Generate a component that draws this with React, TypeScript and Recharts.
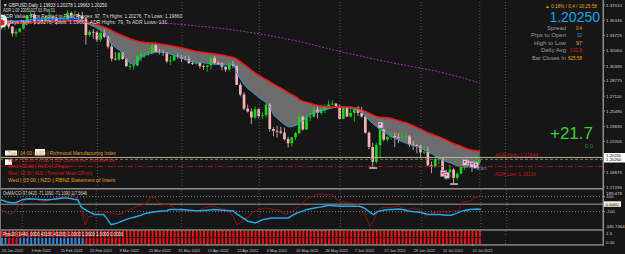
import React from "react";
import {
  ComposedChart,
  BarChart,
  Bar,
  Line,
  Area,
  XAxis,
  YAxis,
  ReferenceLine,
  Cell,
} from "recharts";

const BG = "#161616";
const FONT = "'Liberation Sans', Arial, sans-serif";
const BULL = "#19d419";
const BEAR = "#f7b4b4";
const AXIS = "#8e8e8e";
const GRID = "#6a6a6a";

// GBPUSD daily, 24 Jan 2022 .. 25 Jul 2022 — [open, high, low, close]
const candles: number[][] = [
  // Jan
  [1.3545, 1.356, 1.3434, 1.3486], [1.3486, 1.353, 1.3435, 1.3498], [1.3498, 1.3523, 1.3442, 1.3466],
  [1.3466, 1.3472, 1.336, 1.3392], [1.3392, 1.3436, 1.3358, 1.341], [1.341, 1.3453, 1.34, 1.3446],
  // Feb
  [1.3446, 1.3532, 1.3433, 1.3515], [1.3515, 1.359, 1.351, 1.3575], [1.3575, 1.3628, 1.352, 1.3595],
  [1.3595, 1.362, 1.349, 1.353], [1.353, 1.3545, 1.349, 1.3535], [1.3535, 1.3568, 1.351, 1.353],
  [1.353, 1.358, 1.3524, 1.3565], [1.3565, 1.3643, 1.353, 1.3567], [1.3567, 1.358, 1.3505, 1.3555],
  [1.3555, 1.3565, 1.349, 1.3525], [1.3525, 1.356, 1.35, 1.3535], [1.3535, 1.358, 1.3515, 1.354],
  [1.354, 1.3645, 1.3535, 1.3615], [1.3615, 1.363, 1.3575, 1.359], [1.359, 1.364, 1.3575, 1.3595],
  [1.3595, 1.362, 1.354, 1.3578], [1.3578, 1.3625, 1.353, 1.3547], [1.3547, 1.356, 1.3272, 1.3375],
  [1.3375, 1.343, 1.3354, 1.341], [1.341, 1.3438, 1.3335, 1.3405],
  // Mar
  [1.3405, 1.342, 1.33, 1.3325], [1.3325, 1.3415, 1.33, 1.3397], [1.3397, 1.3437, 1.334, 1.3357],
  [1.3357, 1.3365, 1.3228, 1.325], [1.325, 1.3277, 1.309, 1.3118], [1.3118, 1.319, 1.31, 1.311],
  [1.311, 1.3188, 1.3095, 1.3183], [1.3183, 1.319, 1.3105, 1.3115], [1.3115, 1.3125, 1.3035, 1.3036],
  [1.3036, 1.3077, 1.3, 1.3038], [1.3038, 1.3063, 1.2998, 1.3045], [1.3045, 1.316, 1.3035, 1.315],
  [1.315, 1.321, 1.309, 1.317], [1.317, 1.3186, 1.313, 1.318], [1.318, 1.32, 1.3148, 1.3185],
  [1.3185, 1.3297, 1.3165, 1.3265], [1.3265, 1.3298, 1.3185, 1.3195], [1.3195, 1.3223, 1.3164, 1.319],
  [1.319, 1.3217, 1.315, 1.3185], [1.3185, 1.319, 1.307, 1.309], [1.309, 1.315, 1.305, 1.31],
  [1.31, 1.3167, 1.309, 1.315], [1.315, 1.3175, 1.3118, 1.3137],
  // Apr
  [1.3137, 1.3162, 1.3082, 1.3117], [1.3117, 1.3148, 1.3095, 1.3112], [1.3112, 1.315, 1.3062, 1.307],
  [1.307, 1.3095, 1.305, 1.3068], [1.3068, 1.3107, 1.3054, 1.3072], [1.3072, 1.3078, 1.3012, 1.3036],
  [1.3036, 1.3055, 1.2996, 1.303], [1.303, 1.3054, 1.2975, 1.3045], [1.3045, 1.3148, 1.3, 1.3128],
  [1.3128, 1.3148, 1.305, 1.307], [1.307, 1.309, 1.305, 1.3067], [1.3067, 1.3081, 1.2994, 1.303],
  [1.303, 1.3037, 1.2973, 1.3], [1.3, 1.309, 1.299, 1.3065], [1.3065, 1.309, 1.302, 1.304],
  [1.304, 1.3045, 1.2832, 1.2835], [1.2835, 1.286, 1.271, 1.273], [1.273, 1.2755, 1.256, 1.2575],
  [1.2575, 1.262, 1.2535, 1.2545], [1.2545, 1.258, 1.241, 1.248], [1.248, 1.2598, 1.246, 1.257],
  // May
  [1.257, 1.258, 1.247, 1.2495], [1.2495, 1.2535, 1.246, 1.2505], [1.2505, 1.2638, 1.248, 1.262],
  [1.262, 1.2637, 1.2325, 1.2355], [1.2355, 1.2375, 1.2275, 1.2335], [1.2335, 1.239, 1.226, 1.233],
  [1.233, 1.238, 1.23, 1.2315], [1.2315, 1.237, 1.223, 1.2245], [1.2245, 1.227, 1.2155, 1.22],
  [1.22, 1.227, 1.2165, 1.2265], [1.2265, 1.2325, 1.223, 1.231], [1.231, 1.2524, 1.23, 1.249],
  [1.249, 1.25, 1.234, 1.235], [1.235, 1.2498, 1.2345, 1.248], [1.248, 1.2525, 1.244, 1.249],
  [1.249, 1.2595, 1.248, 1.2565], [1.2565, 1.26, 1.247, 1.253], [1.253, 1.259, 1.251, 1.257],
  [1.257, 1.2622, 1.253, 1.26], [1.26, 1.2665, 1.259, 1.262], [1.262, 1.2667, 1.2615, 1.263],
  [1.263, 1.2638, 1.258, 1.26],
  // Jun
  [1.26, 1.262, 1.246, 1.2465], [1.2465, 1.26, 1.246, 1.259], [1.259, 1.2595, 1.2485, 1.249],
  [1.249, 1.26, 1.248, 1.253], [1.253, 1.2595, 1.243, 1.259], [1.259, 1.26, 1.2495, 1.253],
  [1.253, 1.2595, 1.248, 1.249], [1.249, 1.25, 1.2305, 1.2315], [1.2315, 1.233, 1.2135, 1.216],
  [1.216, 1.2205, 1.1934, 1.2], [1.2, 1.2205, 1.198, 1.218], [1.218, 1.2405, 1.204, 1.235],
  [1.235, 1.236, 1.222, 1.224], [1.224, 1.228, 1.222, 1.227], [1.227, 1.2325, 1.224, 1.228],
  [1.228, 1.2315, 1.216, 1.2265], [1.2265, 1.231, 1.22, 1.226], [1.226, 1.2325, 1.224, 1.227],
  [1.227, 1.2315, 1.223, 1.2275], [1.2275, 1.229, 1.216, 1.2185], [1.2185, 1.2225, 1.2125, 1.218],
  [1.218, 1.2195, 1.209, 1.2175],
  // Jul
  [1.2175, 1.218, 1.204, 1.21], [1.21, 1.2165, 1.208, 1.211], [1.211, 1.2165, 1.195, 1.196],
  [1.196, 1.2, 1.1875, 1.1945], [1.1945, 1.204, 1.1935, 1.203], [1.203, 1.205, 1.1975, 1.2035],
  [1.2035, 1.204, 1.188, 1.189], [1.189, 1.1915, 1.1805, 1.1885], [1.1885, 1.1965, 1.183, 1.1915],
  [1.1915, 1.193, 1.176, 1.1825], [1.1825, 1.189, 1.1805, 1.187], [1.187, 1.199, 1.1865, 1.196],
  [1.196, 1.203, 1.191, 1.201], [1.201, 1.202, 1.195, 1.1985], [1.1985, 1.2005, 1.189, 1.196],
  [1.196, 1.2065, 1.195, 1.2005], [1.19933, 1.20278, 1.19663, 1.2025],
];

// envelope band (red top edge, blue lower edge)
const bandUpper = [
  1.3512, 1.3512, 1.3511, 1.351, 1.3509, 1.3508, 1.3508, 1.351, 1.3512, 1.3514,
  1.3515, 1.3516, 1.3518, 1.352, 1.3522, 1.3522, 1.3523, 1.3524, 1.3526, 1.3527,
  1.3527, 1.3525, 1.3522, 1.3517, 1.3508, 1.3498, 1.3487, 1.3473, 1.3458, 1.344,
  1.3421, 1.34, 1.3382, 1.3366, 1.335, 1.3332, 1.3318, 1.3307, 1.33, 1.3295,
  1.329, 1.3287, 1.3283, 1.3279, 1.3273, 1.3267, 1.3259, 1.3251, 1.3243, 1.3235,
  1.3225, 1.3215, 1.3205, 1.3197, 1.3191, 1.3186, 1.318, 1.3175, 1.317, 1.3163,
  1.3155, 1.3147, 1.314, 1.3132, 1.311, 1.308, 1.305, 1.3022, 1.299, 1.296,
  1.2935, 1.291, 1.289, 1.2865, 1.284, 1.2818, 1.2795, 1.2772, 1.2748, 1.2725,
  1.2705, 1.267, 1.2655, 1.2643, 1.2632, 1.2618, 1.261, 1.2604, 1.26, 1.2597,
  1.2595, 1.2594, 1.2594, 1.2594, 1.2594, 1.2592, 1.2585, 1.2575, 1.256, 1.2542,
  1.2525, 1.2505, 1.2487, 1.2482, 1.2479, 1.2476, 1.2468, 1.2455, 1.2443, 1.2432,
  1.2422, 1.2405, 1.2387, 1.2368, 1.2348, 1.233, 1.2313, 1.2298, 1.2283, 1.2268,
  1.225, 1.2232, 1.2212, 1.2195, 1.2182, 1.2165, 1.2148, 1.2132, 1.2124, 1.2119,
  1.2117,
];
const bandLower = [
  1.354, 1.3538, 1.3535, 1.353, 1.3528, 1.353, 1.3533, 1.3538, 1.3545, 1.355,
  1.3552, 1.3553, 1.3556, 1.3558, 1.3558, 1.3556, 1.3555, 1.3556, 1.356, 1.356,
  1.3558, 1.355, 1.3535, 1.351, 1.3485, 1.3468, 1.345, 1.342, 1.3385, 1.333,
  1.327, 1.3235, 1.321, 1.316, 1.31, 1.307, 1.3052, 1.3085, 1.313, 1.3155,
  1.317, 1.318, 1.3186, 1.319, 1.3191, 1.318, 1.3165, 1.315, 1.3138, 1.3125,
  1.311, 1.3095, 1.3083, 1.3078, 1.3075, 1.3072, 1.3065, 1.3062, 1.3058, 1.3052,
  1.305, 1.305, 1.3052, 1.3065, 1.295, 1.289, 1.283, 1.279, 1.276, 1.2725,
  1.2695, 1.2665, 1.264, 1.259, 1.25, 1.247, 1.243, 1.24, 1.2378, 1.238,
  1.2395, 1.242, 1.2445, 1.248, 1.251, 1.2528, 1.254, 1.2552, 1.2562, 1.2575,
  1.2585, 1.2592, 1.259, 1.2588, 1.2585, 1.258, 1.257, 1.2552, 1.253, 1.249,
  1.2445, 1.241, 1.2378, 1.2345, 1.2318, 1.2292, 1.227, 1.225, 1.2232, 1.2215,
  1.22, 1.2185, 1.2172, 1.216, 1.2145, 1.2125, 1.2106, 1.2085, 1.2055, 1.2035,
  1.2015, 1.2, 1.1987, 1.197, 1.195, 1.1943, 1.194, 1.1943, 1.1955, 1.1972,
  1.1987,
];

// slow moving average (purple dotted), [bar, price]
const slowMaPoints = [
  [42, 1.3515], [46, 1.35], [52, 1.3478], [58, 1.3455], [64, 1.3425], [70, 1.3388],
  [76, 1.3345], [82, 1.3295], [88, 1.3235], [94, 1.3178], [100, 1.3125], [106, 1.3075],
  [112, 1.303], [118, 1.2985], [124, 1.2925], [130, 1.2855],
];

// oscillator window
const cciSlow = [
  60, 45, 30, 22, 16, 35, 60, 68, 73, 70,
  66, 62, 60, 60, 64, 70, 76, 82, 83, 75,
  66, 60, -40, -73, -100, -125, -140, -140, -140, -200,
  -273, -262, -247, -225, -207, -190, -178, -165, -150, -130,
  -117, -108, -100, -95, -90, -87, -73, -73, -73, -73,
  -76, -80, -84, -87, -87, -84, -80, -76, -73, -76,
  -80, -84, -87, -87, -130, -163, -195, -229, -240, -251,
  -230, -207, -198, -190, -186, -184, -184, -184, -184, -150,
  -125, -107, -90, -70, -60, -50, -43, -35, -25, -16,
  -20, -25, -29, -29, -29, -29, -29, -29, -40, -70,
  -110, -140, -100, -87, -78, -73, -70, -67, -64, -75,
  -87, -96, -100, -104, -115, -128, -140, -140, -140, -140,
  -145, -149, -149, -130, -110, -90, -80, -72, -68, -66,
  -71.109,
];
const cciFast = [
  -73, -96, -120, -140, -96, -20, 37, 55, 62, 73,
  60, 45, 37, 50, 60, 80, 100, 108, 112, 117,
  105, 83, -40, -273, -165, -163, -140, -96, -105, -110,
  -117, -130, -140, -118, -96, -73, -50, -29, -15, -7,
  40, 104, 83, 20, -7, -7, -7, -50, -96, -85,
  -73, -85, -96, -96, -75, -51, -40, -29, -29, -50,
  -60, -73, -100, -163, -273, -251, -200, -184, -117, -95,
  -73, -62, -51, -60, -73, -73, -100, -140, -120, -96,
  -60, -20, 30, 75, 100, 115, 130, 135, 130, 127,
  120, 60, 37, 30, 20, 16, 5, -7, -60, -184,
  -296, -229, -96, -51, -48, -43, -38, -33, -29, -50,
  -73, -60, -51, -70, -87, -163, -140, -117, -105, -96,
  -105, -117, -100, -87, -87, 37, 37, 37, 83, 95,
  117.5646,
];

// bars whose lower cell in the Pips20 strip is blue
const pipsBlueBars = [0, 1, 5, 6, 7, 8, 9, 10, 11, 12, 13, 14, 15, 16, 17, 18, 19, 20, 21, 22];

const tickBars = [0, 8, 16, 24, 32, 40, 48, 56, 64, 72, 80, 88, 96, 104, 112, 120, 128];
const tickLabels = [
  "24 Jan 2022", "3 Feb 2022", "15 Feb 2022", "25 Feb 2022", "9 Mar 2022", "21 Mar 2022",
  "31 Mar 2022", "12 Apr 2022", "22 Apr 2022", "4 May 2022", "16 May 2022", "26 May 2022",
  "7 Jun 2022", "17 Jun 2022", "29 Jun 2022", "11 Jul 2022", "21 Jul 2022",
];
const priceTicks = [
  1.3701, 1.35345, 1.33725, 1.3206, 1.30395, 1.28775, 1.2711, 1.2549, 1.23835, 1.22205, 1.18875, 1.17255,
];
const gridBars = [6, 26, 49, 70, 92, 114, 130, 137];
const lowMarks = [[101, 1.1938], [123, 1.1764]];
const patternMarks = [[103, 1.2398], [120, 1.1872], [121, 1.1852], [126, 1.1992], [128, 1.1972], [129, 1.1962]];

const bidLine = 1.2046;
const askLine = 1.2026;
const adrLowLine = 1.1949;

const SLOTS = 164;
const slowMap = new Map(slowMaPoints.map(([b, v]) => [b, v]));
const lowMap = new Map(lowMarks.map(([b, v]) => [b, v]));
const patMap = new Map(patternMarks.map(([b, v]) => [b, v]));
const labelMap = new Map(tickBars.map((b, k) => [b, tickLabels[k]]));

const rows = Array.from({ length: SLOTS }, (_, i) => {
  const c = candles[i];
  const up = bandUpper[i];
  const lo = bandLower[i];
  return {
    i,
    range: c ? [c[2], c[1]] : null,
    o: c ? c[0] : null,
    h: c ? c[1] : null,
    l: c ? c[2] : null,
    c: c ? c[3] : null,
    upper: up ?? null,
    lower: lo ?? null,
    grayBand: up != null && i >= 23 ? [lo, up] : null,
    blueBand: up != null && i <= 23 ? [up, lo] : null,
    slow: slowMap.get(i) ?? null,
    lowMark: lowMap.get(i) ?? null,
    pattern: patMap.get(i) ?? null,
    fast: cciFast[i] ?? null,
    slowCci: cciSlow[i] ?? null,
    pipLo: c ? 1 : null,
    pipHi: c ? 1 : null,
  };
});

function CandleShape(props: any) {
  const { x, y, width, height, payload } = props;
  if (!payload || payload.o == null || y == null) return <g />;
  const { o, h, l, c } = payload;
  const top = Math.min(y, y + height);
  const bottom = Math.max(y, y + height);
  const k = (bottom - top) / (h - l || 1e-9);
  const yo = top + (h - o) * k;
  const yc = top + (h - c) * k;
  const color = c >= o ? BULL : BEAR;
  const cx = x + width / 2;
  return (
    <g>
      <line x1={cx} x2={cx} y1={top} y2={bottom} stroke={color} strokeWidth={0.8} />
      <rect x={x} y={Math.min(yo, yc)} width={width} height={Math.max(Math.abs(yc - yo), 0.8)} fill={color} />
    </g>
  );
}

const LowDot = (p: any) =>
  p.cy == null || p.payload.lowMark == null ? (
    <g key={p.key} />
  ) : (
    <rect key={p.key} x={p.cx - 4} y={p.cy} width={8} height={1.2} fill="#f2f2f2" />
  );

const PatternDot = (p: any) =>
  p.cy == null || p.payload.pattern == null ? (
    <g key={p.key} />
  ) : (
    <g key={p.key}>
      <rect x={p.cx - 2.5} y={p.cy - 3} width={5} height={6} fill="#f0c4cc" stroke="#7070d0" strokeWidth={0.5} />
      <rect x={p.cx - 1.2} y={p.cy - 1.5} width={1.6} height={1.6} fill="#e01818" />
    </g>
  );

const DateTick = (p: any) => {
  const label = labelMap.get(p.payload.value);
  if (!label) return <g />;
  return (
    <text x={p.x} y={p.y + 4.5} fontSize={3.9} fill="#c8c8c8" fontFamily={FONT}>
      {label}
    </text>
  );
};

const yTick = { fill: "#cfcfcf", fontSize: 4.4, fontFamily: FONT };

function Txt(props: any) {
  const { x, y, w, size = 5, fill = "#dcdcdc", anchor = "start", children } = props;
  return (
    <text
      x={x}
      y={y}
      fontSize={size}
      fill={fill}
      fontFamily={FONT}
      textAnchor={anchor}
      textLength={w}
      lengthAdjust={w ? "spacingAndGlyphs" : undefined}
    >
      {children}
    </text>
  );
}

const gridLines = (key: string) =>
  gridBars.map((b) => (
    <ReferenceLine key={key + b} x={b} stroke={GRID} strokeDasharray="1 2" strokeWidth={0.8} />
  ));

export default function App() {
  return (
    <div style={{ position: "relative", width: 625, height: 254, background: BG, overflow: "hidden" }}>
      <style>{"body{margin:0;background:#161616}"}</style>

      {/* main price window */}
      <div style={{ position: "absolute", left: 0, top: 0 }}>
        <ComposedChart width={625} height={192} data={rows} margin={{ top: 0, right: 0, bottom: 0, left: 0 }}>
          <XAxis dataKey="i" type="category" hide />
          <YAxis
            orientation="right"
            width={22}
            domain={[1.16711, 1.37553]}
            allowDataOverflow
            ticks={priceTicks}
            interval={0}
            tick={yTick}
            tickSize={2}
            tickMargin={1}
            stroke={AXIS}
            tickFormatter={(v: number) => v.toFixed(5)}
          />
          {gridLines("m")}
          <Area dataKey="grayBand" stroke="none" fill="#6c6c6c" fillOpacity={1} isAnimationActive={false} />
          <Area dataKey="blueBand" stroke="none" fill="#1a34ff" fillOpacity={1} isAnimationActive={false} />
          <Line dataKey="lower" stroke="#3296c8" strokeWidth={1} dot={false} isAnimationActive={false} />
          <Line dataKey="upper" stroke="#ff1212" strokeWidth={1.5} dot={false} isAnimationActive={false} />
          <Line
            dataKey="slow"
            stroke="#a42ab8"
            strokeWidth={1}
            strokeDasharray="2 1.5"
            dot={false}
            connectNulls
            isAnimationActive={false}
          />
          <ReferenceLine y={adrLowLine} stroke="#c41414" strokeDasharray="5 2 1 2" strokeWidth={0.9} />
          <ReferenceLine y={askLine} stroke="#8a7c44" strokeDasharray="3 2" strokeWidth={1} />
          <ReferenceLine y={bidLine} stroke="#bdbdbd" strokeWidth={0.9} />
          <Bar dataKey="range" barSize={2.7} shape={<CandleShape />} isAnimationActive={false} />
          <Line dataKey="lowMark" stroke="none" dot={LowDot} isAnimationActive={false} />
          <Line dataKey="pattern" stroke="none" dot={PatternDot} isAnimationActive={false} />
        </ComposedChart>
      </div>

      {/* oscillator window */}
      <div style={{ position: "absolute", left: 0, top: 190, background: BG }}>
        <ComposedChart width={625} height={40} data={rows} margin={{ top: 0, right: 0, bottom: 0, left: 0 }}>
          <XAxis dataKey="i" type="category" hide />
          <YAxis
            orientation="right"
            width={22}
            domain={[-345.7364, 189.478]}
            allowDataOverflow
            ticks={[100, -100]}
            interval={0}
            tick={yTick}
            tickSize={2}
            tickMargin={1}
            stroke={AXIS}
          />
          {gridLines("c")}
          <ReferenceLine y={100} stroke="#7a7a7a" strokeDasharray="1 2" />
          <ReferenceLine y={-100} stroke="#7a7a7a" strokeDasharray="1 2" />
          <ReferenceLine y={0} stroke="#a0a0a0" strokeWidth={1} />
          <Line dataKey="fast" stroke="#9a1414" strokeWidth={0.9} dot={false} isAnimationActive={false} />
          <Line dataKey="slowCci" stroke="#22a8e8" strokeWidth={1.5} dot={false} isAnimationActive={false} />
        </ComposedChart>
      </div>

      {/* Pips20 strip + time axis */}
      <div style={{ position: "absolute", left: 0, top: 231 }}>
        <BarChart
          width={625}
          height={23}
          data={rows}
          margin={{ top: 0, right: 0, bottom: 0, left: 0 }}
          barCategoryGap="22%"
        >
          <XAxis
            dataKey="i"
            type="category"
            ticks={tickBars}
            interval={0}
            tick={<DateTick />}
            tickSize={2}
            tickMargin={1}
            axisLine={false}
            tickLine={{ stroke: AXIS }}
            height={10}
          />
          <YAxis orientation="right" width={22} domain={[0, 2]} tick={false} stroke={AXIS} />
          {gridLines("p")}
          <Bar dataKey="pipLo" stackId="p" isAnimationActive={false}>
            {rows.map((r) => (
              <Cell key={r.i} fill={pipsBlueBars.includes(r.i) ? "#2a86e0" : "#f01010"} />
            ))}
          </Bar>
          <Bar dataKey="pipHi" stackId="p" fill="#f01010" isAnimationActive={false} />
          <ReferenceLine y={1} stroke={BG} strokeWidth={0.8} />
        </BarChart>
      </div>

      {/* texts, panel borders */}
      <svg width={625} height={254} style={{ position: "absolute", left: 0, top: 0, pointerEvents: "none" }}>
        <rect x={0} y={188} width={604} height={1.5} fill={AXIS} />
        <rect x={0} y={229.3} width={604} height={1.4} fill={AXIS} />
        <rect x={0} y={244.2} width={604} height={1.4} fill={AXIS} />
        <rect x={0} y={0} width={1} height={245} fill="#777" />
        <rect x={603} y={0} width={1} height={245.5} fill={AXIS} />

        <Txt x={3} y={7} w={104} fill="#e6e6e6">▼ GBPUSD,Daily  1.19933 1.20278 1.19663 1.20250</Txt>
        <Txt x={3} y={12.3} w={52}>ADR 1.00 20051027 01 Pivt 01</Txt>
        <Txt x={3} y={17.8} w={179}>ADR Values: Pips Replied to Peak Ranges: 97, T's Highs: 1.20276, T's Lows: 1.19660</Txt>
        <Txt x={3} y={23.6} w={164}>Todays High: 1.20278, Lows: 1.19663, ADR Highs: 79, Ts ADR Lows: 131</Txt>

        <rect x={5} y={150.5} width={12} height={5} fill="#f2f2f2" />
        <rect x={35} y={149} width={10} height={6.5} fill="#f2f2f2" />
        <rect x={5} y={159.5} width={7} height={5.5} fill="#f2f2f2" />
        <Txt x={8} y={155} w={108} fill="#e0a020">Tue | 14:00 | USD | Richmond Manufacturing Index</Txt>
        <Txt x={8} y={161.5} w={107} fill="#d01c1c">Tue | 15:00 | USD | CB Consumer Confidence</Txt>
        <Txt x={8} y={168} w={60} fill="#d01c1c">Wed | 02:30 | AUD | CPI q/q</Txt>
        <Txt x={8} y={175.3} w={84} fill="#d01c1c">Wed | 02:30 | AUD | Trimmed Mean CPI q/q</Txt>
        <Txt x={8} y={182} w={107} fill="#e0a020">Wed | 03:00 | NZD | RBNZ Statement of Intent</Txt>

        <Txt x={495} y={156.5} w={43} fill="#c81414">ADR High: 1.21644</Txt>
        <Txt x={495} y={175.5} w={41} fill="#c81414">ADR Low: 1.19136</Txt>
        <Txt x={476} y={170} fill="#6f83b0">Start</Txt>

        <Txt x={597} y={7.5} w={52} size={4.5} anchor="end" fill="#e8a010">▲ 0.18% / 0.4 / 10:25:58</Txt>
        <Txt x={600} y={21.8} size={14} anchor="end" fill="#1aa2ea">1.20250</Txt>
        <Txt x={566} y={30} w={19} size={5.6} anchor="end" fill="#9c9c9c">Spread</Txt>
        <Txt x={566} y={37.4} w={35} size={5.6} anchor="end" fill="#9c9c9c">Pips to Open</Txt>
        <Txt x={566} y={44.8} w={32} size={5.6} anchor="end" fill="#9c9c9c">High to Low</Txt>
        <Txt x={566} y={52.2} w={25} size={5.6} anchor="end" fill="#9c9c9c">Daily Avg</Txt>
        <Txt x={566} y={59.6} w={34} size={5.6} anchor="end" fill="#9c9c9c">Bar Closes In</Txt>
        <Txt x={582} y={30} w={6} size={5.4} anchor="end" fill="#e8a010">0.4</Txt>
        <Txt x={582} y={37.4} w={5} size={5.4} anchor="end" fill="#1aa2ea">32</Txt>
        <Txt x={582} y={44.8} w={6} size={5.4} anchor="end" fill="#e8a010">97</Txt>
        <Txt x={582} y={52.2} w={12} size={5.4} anchor="end" fill="#e01010">131.8</Txt>
        <Txt x={582} y={59.6} w={14} size={5.4} anchor="end" fill="#e8a010">625:58</Txt>
        <Txt x={593} y={138.5} size={17} anchor="end" fill="#3ccc3c">+21.7</Txt>
        <Txt x={593} y={147.5} size={6} anchor="end" fill="#1e8c1e">0.0</Txt>

        <rect x={604} y={153} width={21} height={9.5} fill="#ffffff" />
        <Txt x={606} y={157.2} size={4.2} fill="#000">1.20250</Txt>
        <Txt x={606} y={161.4} size={4.2} fill="#000">1.20264</Txt>

        <Txt x={3} y={195} w={84}>OsMA/CCI 97.6420 -71.1090 -71.1090 117.5646</Txt>
        <Txt x={606} y={194.5} size={4.4} fill="#cfcfcf">189.478</Txt>
        <rect x={604} y={201.3} width={17} height={5.5} fill="#f5f0dc" />
        <Txt x={605.5} y={205.5} size={4.3} fill="#000">0.0000</Txt>
        <Txt x={605} y={227.5} size={4.4} fill="#cfcfcf">-345.7364</Txt>

        <Txt x={3} y={236} w={120} fill="#f2f2f2">Pips20 (1440,.0000,43100,43200) 1.0000 1.0000 1.0000 0.0000</Txt>
        <Txt x={606} y={235} size={4.4} fill="#cfcfcf">1.5</Txt>
        <Txt x={606} y={244} size={4.4} fill="#cfcfcf">0.00</Txt>
      </svg>
    </div>
  );
}
